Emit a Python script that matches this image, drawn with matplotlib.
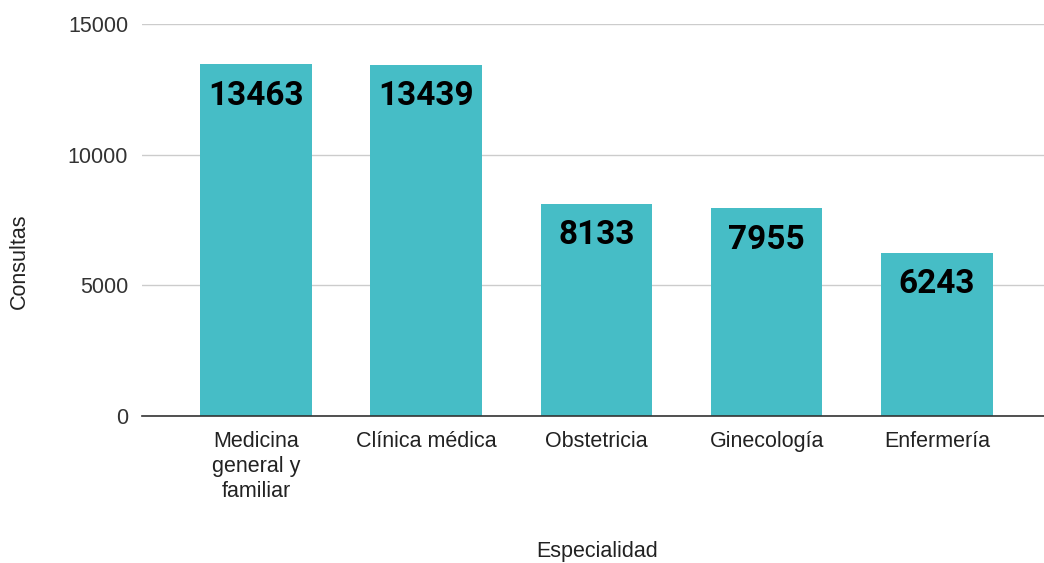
import matplotlib
matplotlib.use("Agg")
import matplotlib.pyplot as plt

categories = ["Medicina\ngeneral y\nfamiliar", "Clínica médica", "Obstetricia", "Ginecología", "Enfermería"]
values = [13463, 13439, 8133, 7955, 6243]
yticks = [0, 5000, 10000, 15000]

FONT = "Liberation Sans"

fig = plt.figure(figsize=(10.44, 5.63), dpi=100)
ax = fig.add_axes([0.136, 0.261, 0.864, 0.696])

x = list(range(len(categories)))
bars = ax.bar(x, values, width=0.655, color="#46BDC6", zorder=2)

ax.set_xlim(-0.67, 4.63)
ax.set_ylim(0, 15000)
ax.set_yticks(yticks)
ax.set_yticklabels([str(t) for t in yticks], fontsize=15.5, family=FONT, color="#333333")
ax.set_xticks(x)
ax.set_xticklabels(categories, fontsize=15.5, family=FONT, color="#222222", va="top", linespacing=1.25)
ax.tick_params(axis="both", length=0)
ax.tick_params(axis="y", pad=10)
ax.tick_params(axis="x", pad=11)

ax.grid(axis="y", color="#cccccc", linewidth=1, zorder=0)
for s in ["top", "right", "left"]:
    ax.spines[s].set_visible(False)
ax.spines["bottom"].set_color("#333333")
ax.spines["bottom"].set_linewidth(1.2)
ax.spines["bottom"].set_zorder(3)

for b, v in zip(bars, values):
    ax.annotate(str(v), (b.get_x() + b.get_width() / 2, v), xytext=(0, -11),
                textcoords="offset points", ha="center", va="top",
                fontsize=24, fontweight="bold", family="Roboto", color="#000000", zorder=4)

fig.text(0.572, 0.0115, "Especialidad", ha="center", va="baseline", fontsize=15.5, family=FONT, color="#222222")
fig.text(0.019, 0.536, "Consultas", ha="center", va="center", rotation=90, fontsize=15.5, family=FONT, color="#222222")

fig.savefig("out.png", dpi=100)
